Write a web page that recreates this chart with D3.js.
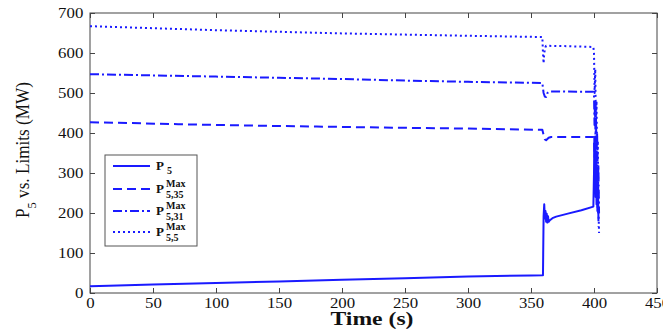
<!DOCTYPE html>
<html>
<head>
<meta charset="utf-8">
<script src="https://cdn.jsdelivr.net/npm/d3@7"></script>
<style>
  html, body { margin: 0; padding: 0; background: #fff; }
  svg { display: block; }
</style>
</head>
<body>
<svg id="chart" width="663" height="331" font-family="'Liberation Serif', 'Times New Roman', serif"></svg>
<script>
// Time axis (s) and power values (MW) for each trace
const xTicks = [0, 50, 100, 150, 200, 250, 300, 350, 400, 450];
const yTicks = [0, 100, 200, 300, 400, 500, 600, 700];

// P5: actual flow
const timeP5 = [0, 15, 50, 100, 150, 200, 250, 300, 350, 359.5, 360, 360.5, 361, 361.5, 362, 362.5, 363, 363.5, 364, 365, 367, 370, 380, 390, 399.5, 400, 400.3, 400.6, 401, 401.3, 401.6, 402, 402.3, 402.7, 403, 403.3];
const valP5  = [17, 18, 21, 25, 29, 33, 37, 41, 44, 44.5, 192, 222, 186, 205, 178, 198, 176, 192, 178, 182, 187, 191, 199, 207, 216, 300, 390, 260, 372, 240, 340, 222, 300, 205, 262, 200];

// P5,35 max limit
const time35 = [0, 30, 70, 120, 180, 250, 300, 359, 360, 361, 362, 364, 366, 399.5, 400, 400.4, 400.8, 401.2, 401.6, 402, 402.4, 402.8, 403.2, 403.6];
const val35  = [427, 425, 422, 419, 416, 413, 411, 408, 395, 384, 382, 388, 390, 390, 385, 340, 375, 300, 350, 262, 320, 210, 260, 165];

// P5,31 max limit
const time31 = [0, 50, 100, 150, 200, 250, 300, 359, 360, 361, 362, 363, 365, 399.5, 400, 400.4, 400.8, 401.2, 401.6, 402, 402.5, 403, 403.5, 404];
const val31  = [547, 544, 541, 538, 535, 531, 528, 525, 500, 491, 490, 500, 504, 503, 495, 420, 480, 380, 440, 330, 400, 260, 320, 200];

// P5,5 max limit
const time5 = [0, 50, 100, 150, 200, 250, 300, 359, 359.5, 360, 360.5, 361.5, 362, 380, 399.5, 400, 400.5, 401, 401.5, 402, 402.5, 403, 403.5, 404];
const val5  = [667, 662, 657, 653, 649, 646, 643, 640, 600, 574, 600, 615, 618, 617, 615, 600, 500, 560, 420, 480, 330, 380, 220, 150];

const seriesList = [
  { name: "P5",    t: timeP5, v: valP5, dash: null,      sup: "",    sub: "5" },
  { name: "P5,35", t: time35, v: val35, dash: "9,5",     sup: "Max", sub: "5,35" },
  { name: "P5,31", t: time31, v: val31, dash: "9,3,2,3", sup: "Max", sub: "5,31" },
  { name: "P5,5",  t: time5,  v: val5,  dash: "2,3",     sup: "Max", sub: "5,5" }
];

const FONT = "'Liberation Serif', 'Times New Roman', serif";
const svg = d3.select("#chart");
const plotLeft = 90, plotRight = 657, plotTop = 13, plotBottom = 293;
const color = "#1a1aff";

const x = d3.scaleLinear().domain([0, 450]).range([plotLeft, plotRight]);
const y = d3.scaleLinear().domain([0, 700]).range([plotBottom, plotTop]);

// frame and inward ticks on all four sides
const axisColor = "#444";
function styleAxis(g) {
  g.attr("font-family", FONT);
  g.select(".domain").remove();
  g.selectAll(".tick line").attr("stroke", axisColor);
}
svg.append("g").attr("transform", `translate(0,${plotBottom})`)
  .call(d3.axisBottom(x).tickValues(xTicks).tickSize(-5).tickPadding(4).tickFormat(d3.format("d")))
  .call(styleAxis)
  .call(g => g.selectAll("text").attr("font-size", 15).attr("fill", "#111")
    .attr("transform", "scale(1.12,1)"));
svg.append("g").attr("transform", `translate(0,${plotTop})`)
  .call(d3.axisTop(x).tickValues(xTicks).tickSize(-5).tickFormat(""))
  .call(styleAxis);
svg.append("g").attr("transform", `translate(${plotLeft},0)`)
  .call(d3.axisLeft(y).tickValues(yTicks).tickSize(-5).tickPadding(6).tickFormat(d3.format("d")))
  .call(styleAxis)
  .call(g => g.selectAll("text").attr("font-size", 15).attr("fill", "#111")
    .attr("transform", "scale(1.12,1)"));
svg.append("g").attr("transform", `translate(${plotRight},0)`)
  .call(d3.axisRight(y).tickValues(yTicks).tickSize(-5).tickFormat(""))
  .call(styleAxis);

svg.append("rect")
  .attr("x", plotLeft).attr("y", plotTop)
  .attr("width", plotRight - plotLeft).attr("height", plotBottom - plotTop)
  .attr("fill", "none").attr("stroke", axisColor).attr("stroke-width", 1);

// data traces
const line = d3.line().x(d => x(d[0])).y(d => y(d[1]));
const plotG = svg.append("g");
seriesList.slice().reverse().forEach(s => {
  const pts = s.t.map((t, i) => [t, s.v[i]]);
  plotG.append("path")
    .datum(pts)
    .attr("d", line)
    .attr("fill", "none")
    .attr("stroke", color)
    .attr("stroke-width", 2)
    .attr("stroke-linejoin", "round")
    .attr("stroke-dasharray", s.dash);
});

// axis titles
svg.append("text")
  .attr("x", 372).attr("y", 325)
  .attr("text-anchor", "middle")
  .attr("font-family", FONT)
  .attr("font-size", 18).attr("font-weight", "bold").attr("fill", "#111")
  .attr("textLength", 83).attr("lengthAdjust", "spacingAndGlyphs")
  .text("Time (s)");

const yl = svg.append("text")
  .attr("transform", "translate(29,150) rotate(-90)")
  .attr("text-anchor", "middle")
  .attr("font-family", FONT)
  .attr("font-size", 18).attr("fill", "#111")
  .attr("textLength", 136).attr("lengthAdjust", "spacingAndGlyphs");
yl.append("tspan").text("P");
yl.append("tspan").attr("dy", 7).attr("font-size", 13).text("5");
yl.append("tspan").attr("dy", -7).text(" vs. Limits (MW)");

// legend
const lg = svg.append("g").attr("font-family", FONT).attr("font-weight", "bold").attr("fill", "#111");
lg.append("rect")
  .attr("x", 105).attr("y", 155).attr("width", 92).attr("height", 91)
  .attr("fill", "#fff").attr("stroke", "#555").attr("stroke-width", 1);
const rowY = [166, 189, 211, 232];
seriesList.forEach((s, i) => {
  const yy = rowY[i];
  lg.append("line")
    .attr("x1", 113).attr("x2", 150).attr("y1", yy).attr("y2", yy)
    .attr("stroke", color).attr("stroke-width", 2)
    .attr("stroke-dasharray", s.dash);
  lg.append("text")
    .attr("x", 156).attr("y", yy + 4)
    .attr("font-size", 13)
    .text("P");
  if (s.sup) {
    lg.append("text")
      .attr("x", 166).attr("y", yy - 2)
      .attr("font-size", 10)
      .text(s.sup);
    lg.append("text")
      .attr("x", 166).attr("y", yy + 9)
      .attr("font-size", 10)
      .text(s.sub);
  } else {
    lg.append("text")
      .attr("x", 167).attr("y", yy + 8)
      .attr("font-size", 10)
      .text(s.sub);
  }
});
</script>
</body>
</html>
